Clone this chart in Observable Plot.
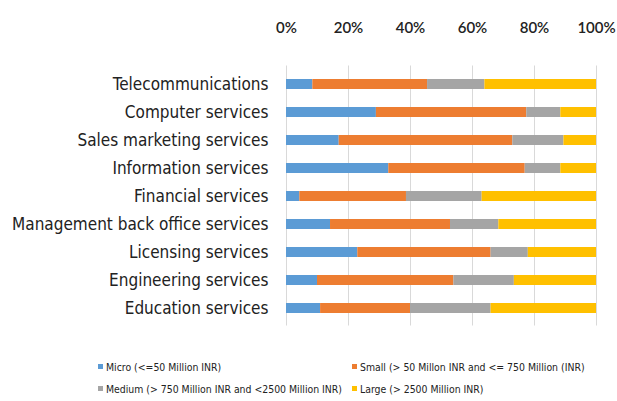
<!DOCTYPE html>
<html>
<head>
<meta charset="utf-8">
<script src="https://cdn.jsdelivr.net/npm/d3@7"></script>
<script src="https://cdn.jsdelivr.net/npm/@observablehq/plot@0.6"></script>
<style>
  html, body { margin: 0; padding: 0; background: #fff; width: 617px; height: 401px; overflow: hidden; }
  #chart { position: relative; width: 617px; height: 401px; }
  .legend { position: absolute; left: 0; top: 345px; width: 617px; height: 56px;
    font-family: "DejaVu Sans Condensed", sans-serif; font-size: 10.4px; color: #222; }
  .item { position: absolute; white-space: nowrap; line-height: 12px; }
  .sw { display: inline-block; width: 5px; height: 5px; margin-right: 3px; vertical-align: 2px; }
</style>
</head>
<body>
<div id="chart"></div>
<script>
const categories = [
  "Telecommunications",
  "Computer services",
  "Sales marketing services",
  "Information services",
  "Financial services",
  "Management back office services",
  "Licensing services",
  "Engineering services",
  "Education services"
];
const seriesNames = [
  "Micro (<=50 Million INR)",
  "Small (> 50 Millon INR and <= 750 Million (INR)",
  "Medium (> 750 Million INR and <2500 Million INR)",
  "Large (> 2500 Million INR)"
];
const micro  = [8.5, 29, 17, 33, 4.3, 14.2, 23, 10, 11];
const small  = [37, 48.5, 56, 44, 34.4, 38.7, 43, 44, 29];
const medium = [18.5, 11, 16.5, 11.5, 24.4, 15.6, 12, 19.5, 26];
const large  = [36, 11.5, 10.5, 11.5, 36.9, 31.5, 22, 26.5, 34];
const tickValues = [0, 20, 40, 60, 80, 100];
const tickLabels = ["0%", "20%", "40%", "60%", "80%", "100%"];
const colors = ["#5b9bd5", "#ed7d31", "#a5a5a5", "#ffc000"];

const seriesValues = [micro, small, medium, large];
const data = seriesValues.flatMap((vals, si) =>
  categories.map((c, i) => ({category: c, series: seriesNames[si], value: vals[i]}))
);

const plot = Plot.plot({
  width: 617,
  height: 345,
  marginLeft: 286,
  marginRight: 21,
  marginTop: 65.5,
  marginBottom: 19.5,
  style: {fontFamily: "'DejaVu Sans Condensed', sans-serif", background: "#fff", overflow: "visible"},
  x: {domain: [0, 100], axis: null},
  y: {domain: categories, paddingInner: 0.65, paddingOuter: 0.325, axis: null},
  color: {domain: seriesNames, range: colors},
  marks: [
    Plot.gridX(tickValues, {stroke: "#d9d9d9", strokeOpacity: 1, strokeWidth: 1}),
    Plot.barX(data, Plot.stackX({x: "value", y: "category", fill: "series", order: seriesNames})),
    Plot.axisX(tickValues, {
      anchor: "top", tickSize: 0, tickPadding: 33,
      tickFormat: (d) => tickLabels[tickValues.indexOf(d)],
      fontSize: 15, fontWeight: 600, fill: "#222",
      fontFamily: "Lato, 'Open Sans', sans-serif", label: null
    }),
    Plot.axisY({
      anchor: "left", tickSize: 0, tickPadding: 18,
      fontSize: 17, fill: "#222", label: null
    })
  ]
});
document.getElementById("chart").appendChild(plot);

const legend = document.createElement("div");
legend.className = "legend";
const positions = [[98, 22], [352, 22], [98, 44], [352, 44]];
seriesNames.forEach((name, i) => {
  const it = document.createElement("div");
  it.className = "item";
  it.style.left = positions[i][0] + "px";
  it.style.top = (positions[i][1] - 6) + "px";
  const sw = document.createElement("span");
  sw.className = "sw";
  sw.style.background = colors[i];
  it.appendChild(sw);
  it.appendChild(document.createTextNode(name));
  legend.appendChild(it);
});
document.getElementById("chart").appendChild(legend);
</script>
</body>
</html>
